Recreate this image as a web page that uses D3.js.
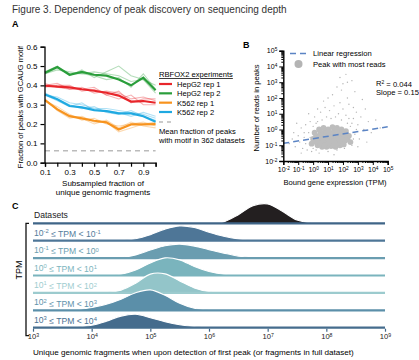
<!DOCTYPE html>
<html>
<head>
<meta charset="utf-8">
<script src="https://cdn.jsdelivr.net/npm/d3@7"></script>
<style>
  body { margin: 0; background: #fff; }
  text { font-family: "Liberation Sans", Arial, sans-serif; }
</style>
</head>
<body>
<div id="chart"></div>
<script>
// ---- Panel A data: fraction of peaks with GCAUG motif vs subsampled fraction
const fractions = [0.1, 0.2, 0.3, 0.4, 0.5, 0.6, 0.7, 0.8, 0.9, 1.0];
const seriesNames = ["HepG2 rep 1", "HepG2 rep 2", "K562 rep 1", "K562 rep 2"];
const seriesColors = ["#e8262b", "#2a9e3b", "#f7931e", "#1fa9e1"];
const hepg2Rep1 = [0.398, 0.393, 0.39, 0.38, 0.372, 0.362, 0.347, 0.316, 0.319, 0.31];
const hepg2Rep2 = [0.465, 0.495, 0.455, 0.47, 0.455, 0.45, 0.43, 0.40, 0.44, 0.375];
const k562Rep1 = [0.324, 0.276, 0.241, 0.229, 0.217, 0.209, 0.172, 0.198, 0.198, 0.2];
const k562Rep2 = [0.353, 0.328, 0.293, 0.286, 0.272, 0.267, 0.255, 0.255, 0.24, 0.212];
// faint subsample replicates, same order as seriesNames
const hepg2Rep1Subs = [
  [0.40, 0.41, 0.38, 0.39, 0.36, 0.37, 0.36, 0.33, 0.34, 0.32],
  [0.39, 0.40, 0.40, 0.37, 0.38, 0.35, 0.33, 0.35, 0.30, 0.30],
  [0.41, 0.39, 0.38, 0.38, 0.39, 0.35, 0.37, 0.31, 0.33, 0.33]];
const hepg2Rep2Subs = [
  [0.46, 0.48, 0.47, 0.46, 0.47, 0.46, 0.45, 0.42, 0.43, 0.40],
  [0.47, 0.50, 0.45, 0.48, 0.44, 0.47, 0.50, 0.45, 0.43, 0.36],
  [0.46, 0.49, 0.46, 0.46, 0.45, 0.43, 0.44, 0.39, 0.46, 0.38]];
const k562Rep1Subs = [
  [0.32, 0.29, 0.25, 0.22, 0.23, 0.20, 0.19, 0.20, 0.21, 0.19],
  [0.33, 0.27, 0.23, 0.24, 0.21, 0.21, 0.16, 0.18, 0.20, 0.21],
  [0.32, 0.28, 0.24, 0.23, 0.20, 0.22, 0.18, 0.21, 0.19, 0.18]];
const k562Rep2Subs = [
  [0.35, 0.34, 0.31, 0.30, 0.28, 0.28, 0.27, 0.26, 0.25, 0.23],
  [0.36, 0.33, 0.30, 0.28, 0.29, 0.26, 0.25, 0.27, 0.24, 0.22],
  [0.35, 0.32, 0.29, 0.31, 0.27, 0.27, 0.26, 0.24, 0.26, 0.24]];
const meanMotifFraction = 0.062;
const yTicksA = [0, 0.1, 0.2, 0.3, 0.4, 0.5, 0.6];

// ---- Panel B data: log10 TPM, log10 reads
const densePoints = [[0.2,-0.4],[0.4,-0.7],[0.5,-0.2],[0.6,-0.9],[0.7,-0.5],[0.8,-0.1],[0.9,-0.7],[1.0,-0.4],
  [1.1,-0.8],[1.2,-0.3],[1.3,-0.6],[1.4,-0.1],[1.5,-0.9],[1.6,-0.5],[1.7,-0.2],[1.8,-0.7],[1.9,-0.4],
  [2.0,-0.8],[2.1,-0.3],[2.3,-0.6],[0.3,-1.0],[0.6,-1.1],[0.9,-1.1],[1.2,-1.05],[1.5,-1.1],[1.8,-1.0],
  [0.0,-0.6],[-0.1,-0.9],[0.1,-0.2],[0.4,0.0],[0.7,0.1],[1.0,0.0],[1.3,0.15],[1.6,0.1],[1.9,0.0],
  [2.2,-0.1],[2.4,-0.4],[2.5,-0.8],[0.8,-0.3],[1.1,-0.6],[1.4,-0.4],[1.0,-0.9],[0.5,-0.5],[1.7,-0.9],
  [1.2,-0.5],[0.9,-0.2],[1.5,-0.3],[0.7,-0.8],[1.3,-0.9],[1.1,-0.2],[0.2,-0.8],[2.0,-0.5],
  [0.3,-0.55],[0.55,-0.35],[0.65,-0.7],[0.85,-0.5],[0.95,-0.95],[1.05,-0.65],[1.15,-0.4],[1.25,-0.75],
  [1.35,-0.25],[1.45,-0.7],[1.55,-0.6],[1.65,-0.35],[1.75,-0.55],[1.85,-0.85],[1.95,-0.2],[2.15,-0.7],
  [2.25,-0.35],[0.45,-0.9],[1.05,-0.15],[1.6,-0.05],[0.15,-0.65],[2.05,-0.95],[1.4,-0.95],[0.75,-1.0]];
const sparsePoints = [[-1.6,-0.9],[-1.4,-0.6],[-1.2,-1.1],[-1.0,-0.4],[-0.9,-0.8],[-0.8,0.1],[-0.7,-1.2],
  [-0.6,-0.5],[-0.5,0.3],[-0.4,-1.3],[-0.3,-0.2],[-0.2,0.5],[-0.1,-1.4],[0.0,0.2],[0.1,0.8],[0.2,-1.3],
  [0.3,0.5],[0.5,1.1],[0.6,0.6],[0.8,1.4],[0.9,0.8],[1.0,-1.4],[1.1,1.2],[1.2,0.7],[1.4,1.5],[1.5,0.8],
  [1.6,-1.3],[1.7,1.0],[1.8,1.7],[1.9,0.6],[2.0,1.3],[2.1,-1.2],[2.2,0.9],[2.3,0.4],[2.4,1.6],[2.5,0.2],
  [2.6,-1.0],[2.7,0.7],[2.8,-0.3],[2.9,1.1],[3.0,0.3],[3.1,-0.6],[3.2,0.8],[3.4,0.0],[3.5,1.3],[3.7,0.5],
  [3.9,-0.2],[4.2,0.6],[4.5,0.1],[1.3,2.2],[1.9,2.5],[2.3,2.0],[2.6,3.1],[2.0,2.9],[1.6,2.7],[2.8,2.4],
  [3.3,1.9],[1.0,2.0],[0.7,1.8],[2.2,3.5],[-0.3,1.0],[-1.1,0.4],[3.6,-0.8],[0.4,-1.5],[1.4,-1.6],
  [-0.8,-1.5],[1.8,3.3],[2.3,3.0],[2.7,1.4],[0.3,1.3],[-1.3,-0.2],[3.0,-1.1],
  [-0.5,-0.9],[-0.2,-0.5],[0.0,-1.2],[2.7,-0.6],[2.9,0.0],[2.6,0.4],[-0.6,-0.2],[0.2,0.4],[2.4,0.7]];
const regSlope = 0.15;
const regIntercept = -0.58;
const rSquared = 0.044;
const decadesB = [-2, -1, 0, 1, 2, 3, 4, 5];

// ---- Panel C data: ridge densities on a log10 grid of fragment counts
const logGrid = [3.0, 3.25, 3.5, 3.75, 4.0, 4.25, 4.5, 4.75, 5.0, 5.25, 5.5, 5.75, 6.0,
  6.25, 6.5, 6.75, 7.0, 7.25, 7.5, 7.75, 8.0, 8.25, 8.5, 8.75, 9.0];
const rowNames = ["Datasets", "tpm-2", "tpm-1", "tpm0", "tpm1", "tpm2", "tpm3"];
const rowExponents = [null, [-2, -1], [-1, 0], [0, 1], [1, 2], [2, 3], [3, 4]];
const rowDensities = [
  [0, 0, 0, 0, 0, 0, 0, 0, 0, 0, 0, 0, 0, 0.07, 0.43, 0.88, 0.97, 0.6, 0.16, 0.02, 0, 0, 0, 0, 0],
  [0, 0, 0, 0, 0, 0, 0.02, 0.1, 0.3, 0.58, 0.74, 0.66, 0.42, 0.22, 0.09, 0.02, 0, 0, 0, 0, 0, 0, 0, 0, 0],
  [0, 0, 0, 0, 0, 0.01, 0.04, 0.16, 0.4, 0.62, 0.7, 0.6, 0.42, 0.25, 0.1, 0.03, 0, 0, 0, 0, 0, 0, 0, 0, 0],
  [0, 0, 0, 0, 0, 0.01, 0.06, 0.27, 0.63, 0.88, 0.78, 0.45, 0.2, 0.06, 0.01, 0, 0, 0, 0, 0, 0, 0, 0, 0, 0],
  [0, 0, 0, 0, 0.005, 0.03, 0.14, 0.48, 0.94, 0.95, 0.6, 0.25, 0.07, 0.01, 0, 0, 0, 0, 0, 0, 0, 0, 0, 0, 0],
  [0, 0, 0, 0.02, 0.14, 0.3, 0.55, 0.88, 1.02, 0.75, 0.35, 0.1, 0.02, 0, 0, 0, 0, 0, 0, 0, 0, 0, 0, 0, 0],
  [0, 0, 0.01, 0.04, 0.12, 0.32, 0.58, 0.67, 0.5, 0.3, 0.15, 0.06, 0.02, 0, 0, 0, 0, 0, 0, 0, 0, 0, 0, 0, 0]];
const rowFills = ["#231f20", "#4e7697", "#6a9db0", "#7ab4bd", "#93c5c9", "#5b8fa9", "#456c8d"];
const rowLines = ["#3f6587", "#4e7697", "#6a9db0", "#7ab4bd", "#9ccbce", "#5b8fa9", "#456c8d"];
const rowLabelColors = ["#222", "#557d9c", "#6c9eb0", "#7db5be", "#9fcdd0", "#5f92ab", "#4a7192"];
const decadesC = [3, 4, 5, 6, 7, 8, 9];

const W = 419, H = 360;
const svg = d3.select("#chart").append("svg").attr("width", W).attr("height", H);

// superscript helper: "10" with exponent
function powLabel(t, exp) {
  t.append("tspan").text("10");
  t.append("tspan").attr("dy", "-0.45em").attr("font-size", "0.68em").text(exp);
}

// ---- Title and panel letters
svg.append("text").attr("x", 12).attr("y", 13).attr("font-size", 10).attr("fill", "#333")
  .text("Figure 3. Dependency of peak discovery on sequencing depth");
[["A", 12, 27], ["B", 243, 48], ["C", 12, 209]].forEach(([l, x, y]) => {
  svg.append("text").attr("x", x).attr("y", y).attr("font-size", 9).attr("font-weight", "bold").text(l);
});

// ======================= Panel A =======================
const xA = d3.scaleLinear().domain([0.1, 1.0]).range([45, 155.6]);
const yA = d3.scaleLinear().domain([0, 0.6]).range([162.7, 46.7]);
const gA = svg.append("g");

const lineA = d3.line().x((d, i) => xA(fractions[i])).y(d => yA(d));
const mains = [hepg2Rep1, hepg2Rep2, k562Rep1, k562Rep2];
const subs = [hepg2Rep1Subs, hepg2Rep2Subs, k562Rep1Subs, k562Rep2Subs];

gA.append("line")
  .attr("x1", xA(0.1)).attr("x2", xA(1.0))
  .attr("y1", yA(meanMotifFraction)).attr("y2", yA(meanMotifFraction))
  .attr("stroke", "#bbb").attr("stroke-width", 1.4).attr("stroke-dasharray", "5,4");

subs.forEach((group, s) => {
  group.forEach(vals => {
    gA.append("path").datum(vals).attr("d", lineA)
      .attr("fill", "none").attr("stroke", seriesColors[s])
      .attr("stroke-width", 1.1).attr("stroke-opacity", 0.35);
  });
});
// draw main lines: K562 first, HepG2 on top
[2, 3, 0, 1].forEach(s => {
  gA.append("path").datum(mains[s]).attr("d", lineA)
    .attr("fill", "none").attr("stroke", seriesColors[s]).attr("stroke-width", 2.2);
});

const xAxisA = gA.append("g").attr("transform", `translate(0,${yA(0)})`)
  .call(d3.axisBottom(xA).tickValues(fractions).tickSize(4).tickPadding(3)
    .tickFormat(d => (Math.round(d * 10) % 2 === 1 ? d3.format(".1f")(d) : "")));
const yAxisA = gA.append("g").attr("transform", `translate(${xA(0.1) - 0.5},0)`)
  .call(d3.axisLeft(yA).tickValues(yTicksA).tickSize(4).tickPadding(3).tickFormat(d3.format(".1f")));
[xAxisA, yAxisA].forEach(a => {
  a.select(".domain").attr("stroke-width", 1.3);
  a.selectAll("line").attr("stroke-width", 1.2);
  a.selectAll("text").attr("font-size", 8).attr("font-family", "Liberation Sans, Arial, sans-serif");
});

gA.append("text").attr("x", 103).attr("y", 186).attr("text-anchor", "middle").attr("font-size", 8)
  .text("Subsampled fraction of");
gA.append("text").attr("x", 103).attr("y", 195).attr("text-anchor", "middle").attr("font-size", 8)
  .text("unique genomic fragments");
gA.append("text").attr("transform", "translate(23,107) rotate(-90)").attr("text-anchor", "middle")
  .attr("font-size", 7.6).text("Fraction of peaks with GCAUG motif");

// legend A
gA.append("text").attr("x", 159).attr("y", 77).attr("font-size", 7.6)
  .attr("text-decoration", "underline").text("RBFOX2 experiments");
const legendOrder = [0, 1, 2, 3];
const legY = d3.scalePoint().domain(legendOrder).range([84, 112]);
legendOrder.forEach(s => {
  gA.append("line").attr("x1", 159).attr("x2", 172).attr("y1", legY(s)).attr("y2", legY(s))
    .attr("stroke", seriesColors[s]).attr("stroke-width", 2.2);
  gA.append("text").attr("x", 177).attr("y", legY(s) + 3).attr("font-size", 7.6).text(seriesNames[s]);
});
gA.append("line").attr("x1", 159).attr("x2", 173).attr("y1", 122).attr("y2", 122)
  .attr("stroke", "#bbb").attr("stroke-width", 1.4).attr("stroke-dasharray", "4,4");
gA.append("text").attr("x", 159).attr("y", 134).attr("font-size", 7.6).text("Mean fraction of peaks");
gA.append("text").attr("x", 159).attr("y", 143).attr("font-size", 7.6).text("with motif in 362 datasets");

// ======================= Panel B =======================
const xB = d3.scaleLog().domain([1e-2, 1e5]).range([283.3, 387.7]);
const yB = d3.scaleLog().domain([1e-2, 1e5]).range([161, 50.7]);
const gB = svg.append("g");

gB.selectAll(".sp").data(sparsePoints).enter().append("circle")
  .attr("cx", d => xB(10 ** d[0])).attr("cy", d => yB(10 ** d[1])).attr("r", 0.7).attr("fill", "#b4b4b4");
gB.selectAll(".dp").data(densePoints).enter().append("circle")
  .attr("cx", d => xB(10 ** d[0])).attr("cy", d => yB(10 ** d[1])).attr("r", 2.9).attr("fill", "#bdbdbd");

gB.append("line")
  .attr("x1", xB(1e-2)).attr("y1", yB(10 ** (regIntercept + regSlope * -2)))
  .attr("x2", xB(1e5)).attr("y2", yB(10 ** (regIntercept + regSlope * 5)))
  .attr("stroke", "#5b84c4").attr("stroke-width", 1.5).attr("stroke-dasharray", "6,4");

const majorB = decadesB.map(e => 10 ** e);
const minorB = [];
decadesB.slice(0, -1).forEach(e => { for (let k = 2; k <= 9; k++) minorB.push(k * 10 ** e); });

function logAxis(axisFn, scale, y0, horizontal) {
  const g1 = gB.append("g").attr("transform", horizontal ? `translate(0,${y0})` : `translate(${y0},0)`)
    .call(axisFn(scale).tickValues(minorB).tickSize(2).tickFormat(""));
  const g2 = gB.append("g").attr("transform", horizontal ? `translate(0,${y0})` : `translate(${y0},0)`)
    .call(axisFn(scale).tickValues(majorB).tickSize(4).tickPadding(2).tickFormat(""));
  g1.select(".domain").remove();
  g2.select(".domain").attr("stroke-width", 1.4);
  g2.selectAll(".tick text").each(function (d) {
    const t = d3.select(this).attr("font-size", 7).attr("font-family", "Liberation Sans, Arial, sans-serif");
    powLabel(t, Math.round(Math.log10(d)));
  });
}
logAxis(d3.axisBottom, xB, 161, true);
logAxis(d3.axisLeft, yB, 283.3, false);

gB.append("text").attr("x", 335).attr("y", 185).attr("text-anchor", "middle").attr("font-size", 7.6)
  .text("Bound gene expression (TPM)");
gB.append("text").attr("transform", "translate(259,108) rotate(-90)").attr("text-anchor", "middle")
  .attr("font-size", 7.6).text("Number of reads in peaks");

gB.append("line").attr("x1", 290).attr("x2", 307).attr("y1", 53.5).attr("y2", 53.5)
  .attr("stroke", "#5b84c4").attr("stroke-width", 1.5).attr("stroke-dasharray", "6,4");
gB.append("text").attr("x", 313).attr("y", 56).attr("font-size", 7.6).text("Linear regression");
gB.append("circle").attr("cx", 298.5).attr("cy", 64).attr("r", 4).attr("fill", "#b4b4b4");
gB.append("text").attr("x", 313).attr("y", 66.5).attr("font-size", 7.6).text("Peak with most reads");
const stat = gB.append("text").attr("x", 376).attr("y", 86).attr("font-size", 7.6);
stat.append("tspan").text("R");
stat.append("tspan").attr("dy", "-0.45em").attr("font-size", "0.65em").text("2");
stat.append("tspan").attr("dy", "0.45em").text(" = " + rSquared);
gB.append("text").attr("x", 376).attr("y", 95).attr("font-size", 7.6).text("Slope = " + regSlope);

// ======================= Panel C =======================
const xC = d3.scaleLog().domain([1e3, 1e9]).range([33, 385]);
const rowY = d3.scalePoint().domain(rowNames).range([223.3, 327.7]);
const hC = d3.scaleLinear().domain([0, 1]).range([0, 20]);
const gC = svg.append("g");

rowNames.forEach((name, i) => {
  const base = rowY(name);
  const pts = logGrid.map((lg, j) => [xC(10 ** lg), base - hC(rowDensities[i][j])]);
  const area = d3.area().x(d => d[0]).y0(base).y1(d => d[1]).curve(d3.curveCatmullRom);
  const top = d3.line().x(d => d[0]).y(d => d[1]).curve(d3.curveCatmullRom);
  gC.append("path").datum(pts).attr("d", area).attr("fill", rowFills[i]);
  gC.append("path").datum(pts).attr("d", top).attr("fill", "none")
    .attr("stroke", "#fff").attr("stroke-width", 1.1);
  gC.append("line").attr("x1", xC(1e3)).attr("x2", xC(1e9)).attr("y1", base).attr("y2", base)
    .attr("stroke", rowLines[i]).attr("stroke-width", 2.2);

  const t = gC.append("text").attr("x", 34).attr("y", base - 5).attr("font-size", 8.6)
    .attr("fill", rowLabelColors[i]);
  if (rowExponents[i] === null) {
    t.text(name);
  } else {
    powLabel(t, rowExponents[i][0]);
    t.append("tspan").attr("dy", "0.45em").text(" \u2264 TPM < ");
    powLabel(t, rowExponents[i][1]);
  }
});

const xAxisC = gC.append("g").attr("transform", `translate(0,${rowY("tpm3") + 1})`)
  .call(d3.axisBottom(xC).tickValues(decadesC.map(e => 10 ** e)).tickSize(3).tickPadding(2).tickFormat(""));
xAxisC.select(".domain").remove();
xAxisC.selectAll("line").attr("stroke", "#3f6587").attr("stroke-width", 1.2);
xAxisC.selectAll(".tick text").each(function (d) {
  const t = d3.select(this).attr("font-size", 7.6).attr("fill", "#222")
    .attr("font-family", "Liberation Sans, Arial, sans-serif");
  powLabel(t, Math.round(Math.log10(d)));
});
gC.append("text").attr("x", 33).attr("y", 355).attr("font-size", 8.1)
  .text("Unique genomic fragments when upon detection of first peak (or fragments in full dataset)");

// TPM bracket
gC.append("path")
  .attr("d", `M29,${rowY("Datasets")}H26V${rowY("tpm3") + 8}H29`)
  .attr("fill", "none").attr("stroke", "#111").attr("stroke-width", 1.3);
gC.append("text").attr("transform", "translate(22,270) rotate(-90)").attr("text-anchor", "middle")
  .attr("font-size", 9).text("TPM");
</script>
</body>
</html>
